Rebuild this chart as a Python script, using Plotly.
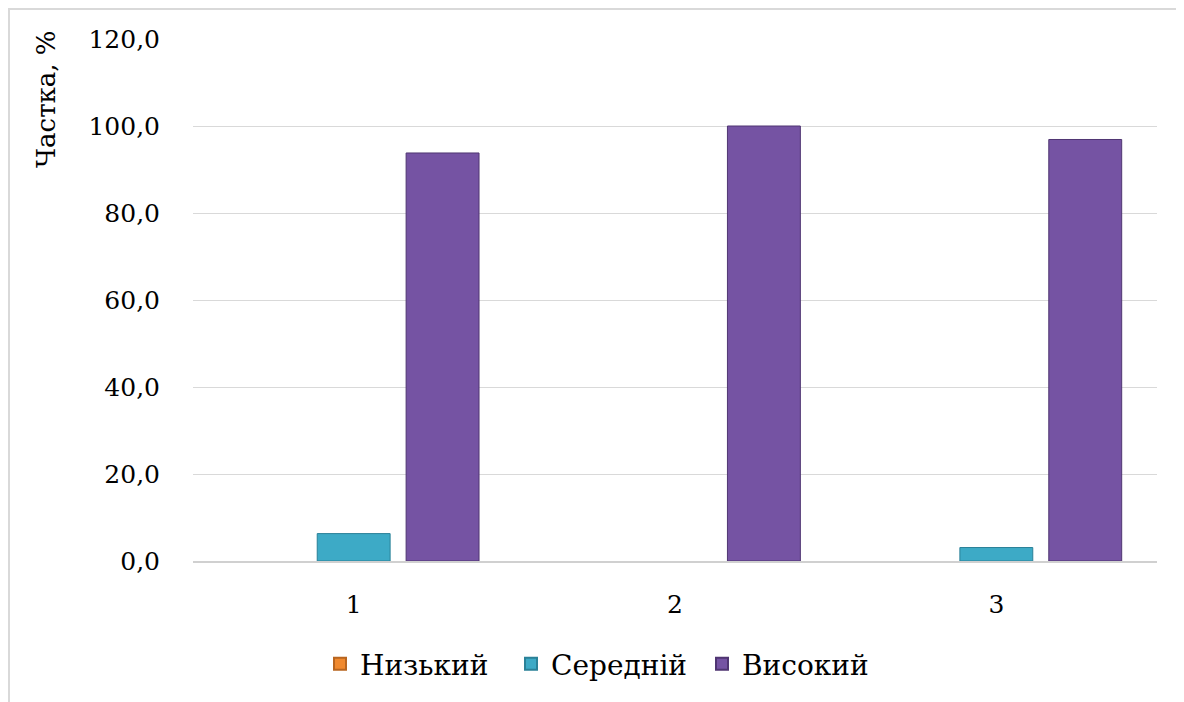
import plotly.graph_objects as go

categories = ["1", "2", "3"]
series_names = ["Низький", "Середній", "Високий"]
low_values = [0.0, 0.0, 0.0]
mid_values = [6.3, 0.0, 3.1]
high_values = [93.8, 100.0, 96.9]
series_colors = ["#F0892E", "#3DAAC6", "#7553A3"]
edge_colors = ["#B8651F", "#2A8198", "#4F3572"]
y_ticks = [0, 20, 40, 60, 80, 100, 120]

FONT = "DejaVu Serif"

fig = go.Figure()
for name, vals, col, ec in zip(series_names, [low_values, mid_values, high_values],
                               series_colors, edge_colors):
    fig.add_trace(go.Bar(x=categories, y=vals, name=name,
                         marker=dict(color=col,
                                     line=dict(color=ec, width=[1 if v > 0 else 0 for v in vals]))))

# page body has an 8px margin; compensate
OFF = 8
W, H = 1184 - OFF, 702 - OFF
L, T = 193 - OFF, 39 - OFF
R = W - (1157 - OFF)
B = H - (561 - OFF)
pw, ph = W - L - R, H - T - B

def px(xs):
    return (xs - OFF - L) / pw

def py(ys):
    return (H - B - (ys - OFF)) / ph

fig.update_layout(
    width=W, height=H,
    margin=dict(l=L, r=R, t=T, b=B),
    paper_bgcolor="white", plot_bgcolor="white",
    barmode="group", bargap=0.17, bargroupgap=0.18,
    separators=", ",
    font=dict(family=FONT, size=25, color="black"),
    showlegend=True,
    legend=dict(orientation="h", x=px(320), xanchor="left",
                y=py(664), yanchor="middle",
                font=dict(family=FONT, size=28), itemsizing="constant",
                traceorder="normal", itemwidth=30, entrywidth=146,
                entrywidthmode="pixels"),
    xaxis=dict(showgrid=False, showline=True, linecolor="#D0D0D0", linewidth=2,
               ticks="", ticklabelstandoff=20, tickfont=dict(size=25, family=FONT)),
    yaxis=dict(range=[0, 120], tickvals=y_ticks, tickformat=".1f",
               showgrid=True, gridcolor="#D9D9D9", gridwidth=1,
               zeroline=False, showline=False, ticks="", ticklabelstandoff=32,
               tickfont=dict(size=25, family=FONT)),
    annotations=[dict(text="Частка, %", textangle=-90, xref="paper", yref="paper",
                      x=px(46), y=py(99), xanchor="center", yanchor="middle",
                      showarrow=False, font=dict(family=FONT, size=26, color="black"))],
    shapes=[dict(type="rect", xref="paper", yref="paper",
                 x0=px(9), x1=1.2, y0=-0.5, y1=py(9),
                 line=dict(color="#D9D9D9", width=2), layer="below")],
)

fig.write_html("out.html")
